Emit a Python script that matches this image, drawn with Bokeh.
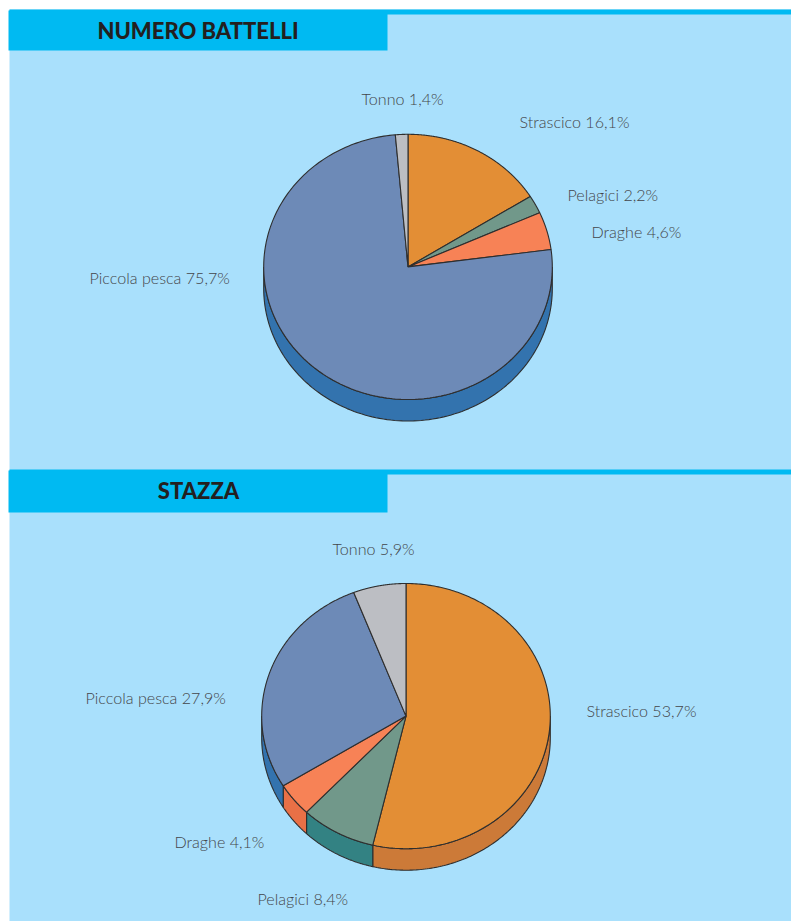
import numpy as np
from bokeh.plotting import figure
from bokeh.models import Range1d
from bokeh.core.properties import value
from bokeh.embed import file_html
from bokeh.resources import INLINE

categories = ["Strascico", "Pelagici", "Draghe", "Piccola pesca", "Tonno"]
numero_battelli = [16.1, 2.2, 4.6, 75.7, 1.4]
stazza = [53.7, 8.4, 4.1, 27.9, 5.9]
top_colors = ["#E38E35", "#71988A", "#F78256", "#6D8AB7", "#BCBEC3"]
side_colors = ["#CC7A38", "#338283", "#E97046", "#3373AE", "#9A9CA1"]
titles = ["NUMERO BATTELLI", "STAZZA"]

W, H = 791, 921
p = figure(width=W, height=H, x_range=Range1d(0, W), y_range=Range1d(H, 0),
           output_backend="svg", toolbar_location=None, min_border=0,
           background_fill_color="white", border_fill_color="white", outline_line_color=None)
p.axis.visible = False
p.grid.visible = False

BG, HEAD, INK, TXT = "#A9E0FC", "#00BAF2", "#2E2E2E", "#44464A"

# panels
p.quad(left=[9], right=[791], top=[9], bottom=[921], fill_color=BG, line_color=None)
for y0, y1, y2 in [(9, 14, 50), (469, 474, 512)]:
    p.quad(left=[9], right=[791], top=[y0], bottom=[y1], fill_color=HEAD, line_color=None)
    p.quad(left=[8], right=[387], top=[y0 + 1], bottom=[y2], fill_color=HEAD, line_color=None)


def pie(vals, cx, cy, rx=144.3, ry=132.6, depth=21.5):
    edges = np.radians(np.concatenate([[0], np.cumsum(vals)]) * 3.6)
    pt = lambda t: (cx + rx * np.sin(t), cy - ry * np.cos(t))
    # sides, only the front half of the rim shows
    for i in range(len(vals)):
        a, b = max(edges[i], np.pi / 2), min(edges[i + 1], 3 * np.pi / 2)
        if b <= a:
            continue
        t = np.linspace(a, b, 120)
        x, y = pt(t)
        xs = np.concatenate([x, x[::-1]])
        ys = np.concatenate([y, (y + depth)[::-1]])
        p.patch(xs, ys, fill_color=side_colors[i], line_color=INK, line_width=1.1)
    for i in range(len(vals)):
        t = np.linspace(edges[i], edges[i + 1], 240)
        x, y = pt(t)
        p.patch(np.r_[cx, x], np.r_[cy, y], fill_color=top_colors[i], line_color=INK, line_width=1.1)


pie(numero_battelli, 407.5, 266.4)
pie(stazza, 405.5, 715.6)


def labels(vals, xs, ys):
    txt = [f"{c} {v:.1f}%".replace(".", ",") for c, v in zip(categories, vals)]
    p.text(xs, ys, text=txt, text_font=value("Lato Light"), text_font_size="16.1px",
           text_color=TXT, text_align="left", text_baseline="middle")


labels(numero_battelli, [519, 567, 591, 89, 361], [121, 194, 231, 277, 98])
labels(stazza, [586, 257, 174, 85, 332], [710, 898, 841, 697, 548])

p.text([197.5, 198], [29.5, 490], text=titles, text_font=value("Lato Black"), text_font_size="22px",
       text_color="#231F20", text_align="center", text_baseline="middle")

open("out.html", "w").write(file_html(p, INLINE))
